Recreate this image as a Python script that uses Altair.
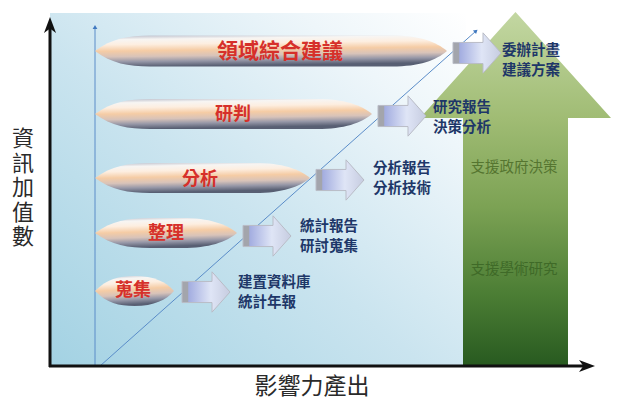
import altair as alt
import pandas as pd

# ---------------- content ----------------
stage_labels = ["蒐集", "整理", "分析", "研判", "領域綜合建議"]
output_labels = ["建置資料庫\n統計年報", "統計報告\n研討蒐集", "分析報告\n分析技術",
                 "研究報告\n決策分析", "委辦計畫\n建議方案"]
support_labels = ["支援政府決策", "支援學術研究"]
y_title = "資\n訊\n加\n值\n數"
x_title = "影響力產出"

# ---------------- layout (picture units) ----------------
stage_left = 95
stage_right = [174, 237, 310, 372, 447]
stage_y = [291, 233, 178, 114, 51]
stage_h = [30, 30, 30, 30, 31]
label_x = [133, 166, 200, 233, 280]
label_y = [291, 234, 180, 115, 52]
label_size = [18, 18, 18, 18, 21]
arrow_left = [182, 243, 316, 378, 453]
arrow_y = [292, 236, 180, 116, 53]
output_x = [238, 300, 373, 433, 502]
output_y = [283, 227, 169, 108, 51]
support_x = [514, 514]
support_y = [168, 270]
green_box = [420, 611, 12, 366]      # left, right, top, bottom
green_head_base = 118
green_shaft = [463, 568]

FONT = "Noto Sans CJK TC"

X = lambda f: alt.X(f, type="quantitative", scale=alt.Scale(domain=[8, 612], nice=False, zero=False), axis=None)
Y = lambda f: alt.Y(f, type="quantitative", scale=alt.Scale(domain=[8, 400], nice=False, zero=False, reverse=True), axis=None)


def grad(stops, x1=0, y1=0, x2=0, y2=1):
    return {"gradient": "linear", "x1": x1, "y1": y1, "x2": x2, "y2": y2,
            "stops": [{"offset": o, "color": c} for o, c in stops]}


def lens_path(w, h, taper=55.0):
    hw = w / 2.0
    hn = (h / 2.0) / hw
    tn = min(taper / hw, 1.0)
    a = -1 + tn
    b = 1 - tn
    r = lambda v: f"{v:.4f}"
    return (f"M-1,0 C{r(-1+0.3*tn)},{r(-0.8*hn)} {r(-1+0.6*tn)},{r(-hn)} {r(a)},{r(-hn)} "
            f"L{r(b)},{r(-hn)} C{r(1-0.5*tn)},{r(-hn)} {r(1-0.2*tn)},{r(-0.6*hn)} 1,0 "
            f"C{r(1-0.2*tn)},{r(0.6*hn)} {r(1-0.5*tn)},{r(hn)} {r(b)},{r(hn)} "
            f"L{r(a)},{r(hn)} C{r(-1+0.6*tn)},{r(hn)} {r(-1+0.3*tn)},{r(0.8*hn)} -1,0 Z")


def up_arrow_path(box, base, shaft):
    l, rgt, t, btm = box
    cx, cy, s = (l + rgt) / 2, (t + btm) / 2, (rgt - l) / 2
    n = lambda px, py: f"{(px - cx) / s:.4f},{(py - cy) / s:.4f}"
    return (f"M{n(cx, t)} L{n(rgt, base)} L{n(shaft[1], base)} L{n(shaft[1], btm)} "
            f"L{n(shaft[0], btm)} L{n(shaft[0], base)} L{n(l, base)} Z"), cx, cy, (rgt - l) ** 2


# ---------------- background ----------------
bg = pd.DataFrame({"x": [50], "x2": [466], "y": [13], "y2": [366]})
background = alt.Chart(bg).mark_rect(
    fill=grad([(0, "#a3d2e3"), (0.45, "#cae4ef"), (0.8, "#eef6fa"), (1, "#ffffff")], x1=0, y1=1, x2=1, y2=0)
).encode(x=X("x"), x2="x2", y=Y("y"), y2="y2")

# ---------------- green arrow ----------------
gpath, gcx, gcy, gsize = up_arrow_path(green_box, green_head_base, green_shaft)
ga = pd.DataFrame({"x": [gcx], "y": [gcy], "shape": [gpath], "size": [gsize]})
green = alt.Chart(ga).mark_point(
    filled=True, opacity=1, strokeWidth=0,
    fill=grad([(0, "#c3d7a2"), (0.3, "#a0bc74"), (0.55, "#7ca254"), (0.8, "#4b7d34"), (1, "#285a20")])
).encode(x=X("x"), y=Y("y"), shape=alt.Shape("shape:N", scale=None), size=alt.Size("size:Q", scale=None))

# ---------------- thin blue guide lines ----------------
bl = pd.DataFrame({"x": [95, 100], "y": [366, 366], "x2": [95, 476], "y2": [28, 31]})
blue_lines = alt.Chart(bl).mark_rule(color="#5a8cc8", strokeWidth=1).encode(
    x=X("x"), y=Y("y"), x2="x2", y2="y2")
bh = pd.DataFrame({"x": [95, 476], "y": [27, 31], "a": [0, 48]})
blue_heads = alt.Chart(bh).mark_point(shape="triangle-up", filled=True, color="#3f78c0",
                                      size=22, opacity=1).encode(
    x=X("x"), y=Y("y"), angle=alt.Angle("a:Q", scale=None))

# ---------------- black axes ----------------
ax = pd.DataFrame({"x": [49, 50], "y": [366, 367], "x2": [588, 50], "y2": [366, 24]})
axes = alt.Chart(ax).mark_rule(color="#111111", strokeWidth=3).encode(
    x=X("x"), y=Y("y"), x2="x2", y2="y2")
ah = pd.DataFrame({"x": [587, 50], "y": [366, 25],
                   "shape": ["M1,0 L-1,-0.75 L-0.45,0 L-1,0.75 Z", "M0,-1 L-0.75,1 L0,0.45 L0.75,1 Z"]})
axis_heads = alt.Chart(ah).mark_point(filled=True, color="#111111", size=256, opacity=1).encode(
    x=X("x"), y=Y("y"), shape=alt.Shape("shape:N", scale=None))

# ---------------- stage lenses ----------------
ell = pd.DataFrame({
    "x": [(stage_left + r) / 2 for r in stage_right],
    "y": stage_y,
    "shape": [lens_path(r - stage_left, h) for r, h in zip(stage_right, stage_h)],
    "size": [(r - stage_left) ** 2 for r in stage_right],
})
lenses = alt.Chart(ell).mark_point(
    filled=True, opacity=1, strokeWidth=0,
    fill=grad([(0, "#b9bdca"), (0.14, "#f7f5f3"), (0.3, "#fdeee0"), (0.5, "#f5cca5"),
               (0.68, "#d8c3b9"), (0.84, "#9697a7"), (1, "#585f73")], x1=0, y1=0, x2=0.15, y2=1)
).encode(x=X("x"), y=Y("y"), shape=alt.Shape("shape:N", scale=None), size=alt.Size("size:Q", scale=None))

# ---------------- block arrows ----------------
arr = pd.DataFrame({"x": [a + 24 for a in arrow_left], "y": arrow_y,
                    "shape": ["M-1,-0.44 L0.25,-0.44 L0.25,-0.84 L1,0 L0.25,0.84 L0.25,0.44 L-1,0.44 Z"] * 5})
arrows = alt.Chart(arr).mark_point(
    filled=True, opacity=1, stroke="#b9bcc6", strokeWidth=1, size=2304,
    fill=grad([(0, "#a3a5ac"), (0.12, "#a3a5ac"), (0.14, "#a3ade0"), (0.6, "#dfe5f6"), (1, "#c6cce0")],
              x1=0, y1=0, x2=1, y2=0)
).encode(x=X("x"), y=Y("y"), shape=alt.Shape("shape:N", scale=None))

# ---------------- texts ----------------
lab = pd.DataFrame({"x": label_x, "y": label_y, "t": stage_labels, "fs": label_size})
stage_text = alt.Chart(lab).mark_text(font=FONT, fontWeight="bold", color="#d6302a",
                                      align="center", baseline="middle").encode(
    x=X("x"), y=Y("y"), text="t:N", size=alt.Size("fs:Q", scale=None))

out = pd.DataFrame({"x": output_x, "y": output_y, "t": output_labels})
out_text = alt.Chart(out).mark_text(font=FONT, fontWeight="bold", color="#1e3768", fontSize=14.5,
                                    align="left", baseline="middle", lineBreak="\n", lineHeight=19.5).encode(
    x=X("x"), y=Y("y"), text="t:N")

sup = pd.DataFrame({"x": support_x, "y": support_y, "t": support_labels, "c": ["#557530", "#3f6a28"]})
sup_text = alt.Chart(sup).mark_text(font=FONT, fontSize=14.5, align="center", baseline="middle").encode(
    x=X("x"), y=Y("y"), text="t:N", color=alt.Color("c:N", scale=None))

tt = pd.DataFrame({"x": [23, 312], "y": [139, 387], "t": [y_title, x_title], "fs": [22, 23]})
titles = alt.Chart(tt).mark_text(font=FONT, color="#2a2a2a", align="center",
                                 baseline="middle", lineBreak="\n", lineHeight=24.5).encode(
    x=X("x"), y=Y("y"), text="t:N", size=alt.Size("fs:Q", scale=None))

chart = alt.layer(
    background, green, blue_lines, blue_heads, axes, axis_heads,
    lenses, arrows, stage_text, out_text, sup_text, titles
).properties(
    width=604, height=392, padding=0,
    autosize=alt.AutoSizeParams(type="none"), background="white"
).configure_view(stroke=None)

chart.save("out.html", embed_options={"renderer": "svg", "actions": False})
